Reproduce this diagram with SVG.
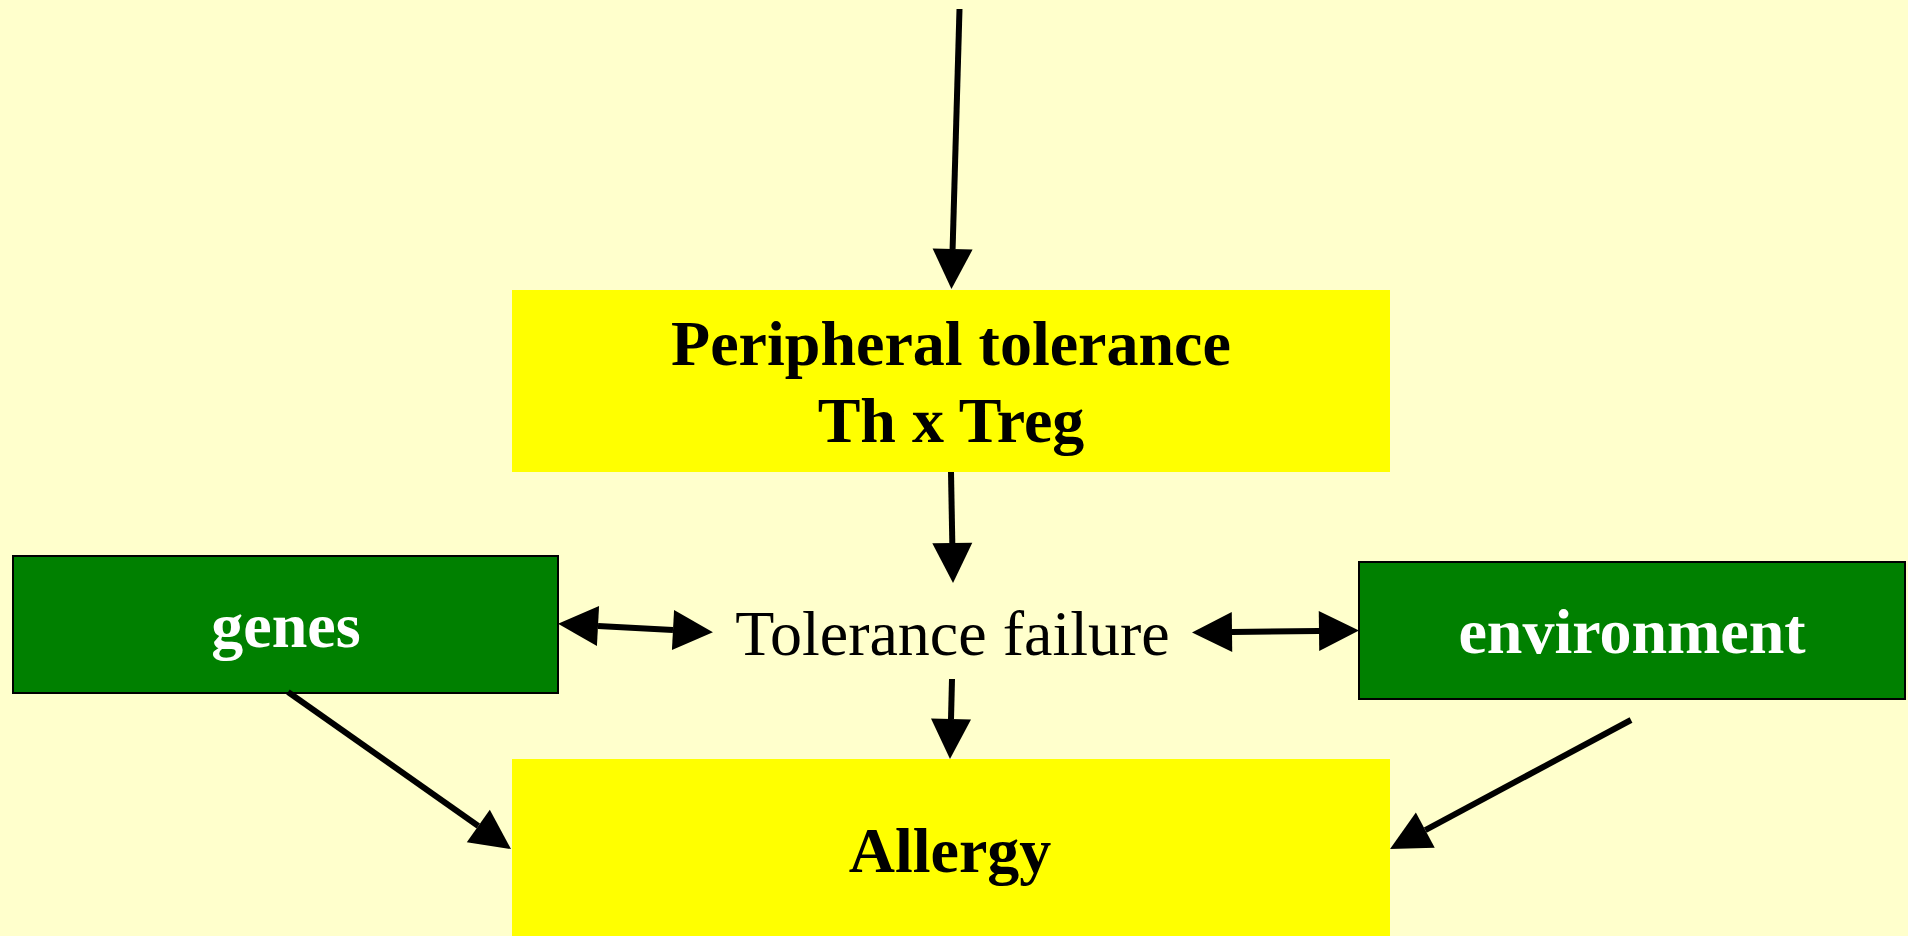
<svg xmlns="http://www.w3.org/2000/svg" width="1908" height="936" viewBox="0 0 1908 936">
<style>
.bg{fill:#FFFFCC}
.ybox{fill:#FFFF00}
.gbox{fill:#008000;stroke:#000;stroke-width:2}
.t{font-family:"Liberation Serif","Times New Roman",serif;font-size:64px;text-anchor:middle}
.b{font-weight:bold}
.w{fill:#FFFFFF}
.k{fill:#000000}
.c{stroke:#000;stroke-width:6;fill:none}
</style>
<defs>
<marker id="ah" markerUnits="userSpaceOnUse" markerWidth="41" markerHeight="41" refX="0" refY="20" orient="auto" viewBox="0 0 41 41" overflow="visible">
<path d="M0,0 L40,20 L0,40 z" fill="#000"/>
</marker>
<marker id="ahs" markerUnits="userSpaceOnUse" markerWidth="41" markerHeight="41" refX="40" refY="20" orient="auto" viewBox="0 0 41 41" overflow="visible">
<path d="M40,0 L0,20 L40,40 z" fill="#000"/>
</marker>
</defs>
<rect class="bg" x="0" y="0" width="1908" height="936"/>
<g id="peripheral">
<rect class="ybox" x="512" y="290" width="878" height="182"/>
<text class="t b k" x="951" y="365">Peripheral tolerance</text>
<text class="t b k" x="951" y="442">Th x Treg</text>
</g>
<g id="genes">
<rect class="gbox" x="13" y="556" width="545" height="137"/>
<text class="t b w" x="286" y="647">genes</text>
</g>
<g id="tolerance">
<text class="t k" x="952.5" y="655">Tolerance failure</text>
</g>
<g id="environment">
<rect class="gbox" x="1359" y="562" width="546" height="137"/>
<text class="t b w" x="1632" y="653">environment</text>
</g>
<g id="allergy">
<rect class="ybox" x="512" y="759" width="878" height="177"/>
<text class="t b k" x="950" y="872">Allergy</text>
</g>
<g id="connectors">
<path class="c" d="M959.5,9 L952.6,249" marker-end="url(#ah)"/>
<path class="c" d="M951,472 L952.3,543" marker-end="url(#ah)"/>
<path class="c" d="M952,679 L951,719" marker-end="url(#ah)"/>
<path class="c" d="M598,626 L673,630" marker-start="url(#ahs)" marker-end="url(#ah)"/>
<path class="c" d="M1232,632 L1319,631" marker-start="url(#ahs)" marker-end="url(#ah)"/>
<path class="c" d="M288,692 L478.3,826" marker-end="url(#ah)"/>
<path class="c" d="M1631,720 L1425.3,830.1" marker-end="url(#ah)"/>
</g>
</svg>
